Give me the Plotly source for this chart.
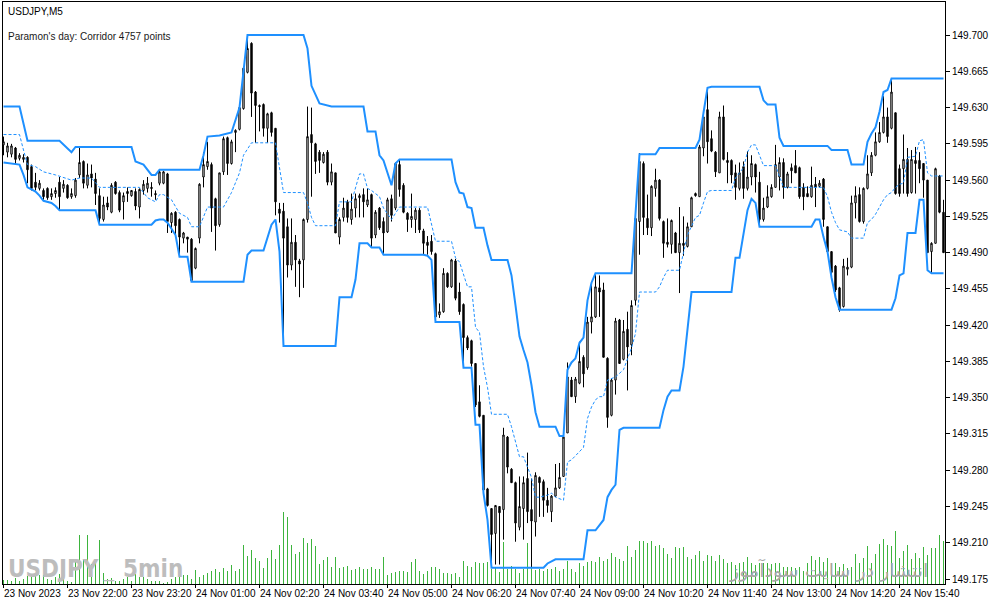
import plotly.graph_objects as go

# ---------------- data (USDJPY M5) ----------------
opens = [149.594,149.587,149.585,149.591,149.581,149.580,149.582,149.573,149.558,149.552,
149.550,149.552,149.544,149.547,149.558,149.552,149.555,149.544,149.545,149.565,
149.578,149.555,149.566,149.561,149.545,149.522,149.538,149.529,149.558,149.548,
149.539,149.549,149.545,149.549,149.534,149.550,149.552,149.553,149.547,149.557,
149.557,149.566,149.519,149.529,149.522,149.504,149.505,149.503,149.475,149.504,
149.563,149.573,149.575,149.542,149.517,149.568,149.601,149.576,149.606,149.609,
149.629,149.664,149.692,149.645,149.632,149.633,149.610,149.625,149.610,149.532,
149.530,149.515,149.478,149.500,149.482,149.483,149.522,149.604,149.595,149.587,
149.577,149.587,149.558,149.567,149.505,149.524,149.539,149.522,149.533,149.543,
149.546,149.536,149.546,149.507,149.533,149.520,149.510,149.542,149.533,149.575,
149.555,149.528,149.522,149.522,149.531,149.511,149.500,149.501,149.489,149.430,
149.433,149.470,149.457,149.482,149.452,149.440,149.408,149.405,149.383,149.346,
149.333,149.262,149.243,149.219,149.245,149.242,149.312,149.281,149.268,149.225,
149.243,149.272,149.242,149.230,149.273,149.269,149.251,149.240,149.255,149.263,
149.274,149.316,149.367,149.351,149.364,149.389,149.379,149.423,149.428,149.456,
149.454,149.388,149.333,149.367,149.425,149.387,149.416,149.401,149.444,149.520,
149.576,149.523,149.514,149.552,149.560,149.520,149.500,149.498,149.509,149.490,
149.499,149.496,149.515,149.547,149.544,149.591,149.628,149.600,149.587,149.567,
149.621,149.579,149.579,149.567,149.552,149.573,149.552,149.563,149.575,149.558,
149.522,149.534,149.544,149.553,149.563,149.577,149.553,149.572,149.574,149.572,
149.553,149.547,149.544,149.556,149.554,149.561,149.515,149.491,149.477,149.456,
149.438,149.474,149.476,149.538,149.546,149.520,149.552,149.567,149.584,149.597,
149.606,149.621,149.610,149.625,149.571,149.571,149.580,149.548,149.579,149.579,
149.576,149.560,149.491,149.499,149.564,149.529]
highs = [149.602,149.596,149.595,149.592,149.586,149.585,149.583,149.575,149.567,149.560,
149.552,149.553,149.552,149.553,149.563,149.560,149.556,149.552,149.562,149.591,
149.579,149.576,149.575,149.567,149.552,149.544,149.544,149.557,149.559,149.550,
149.548,149.553,149.550,149.552,149.552,149.560,149.563,149.558,149.550,149.570,
149.569,149.567,149.529,149.530,149.523,149.510,149.505,149.504,149.495,149.557,
149.587,149.597,149.577,149.543,149.567,149.602,149.602,149.599,149.609,149.631,
149.669,149.699,149.693,149.646,149.633,149.634,149.625,149.626,149.610,149.538,
149.538,149.523,149.523,149.507,149.484,149.523,149.631,149.630,149.596,149.589,
149.587,149.589,149.576,149.567,149.524,149.543,149.541,149.547,149.547,149.547,
149.552,149.552,149.547,149.531,149.534,149.524,149.543,149.546,149.577,149.580,
149.557,149.529,149.547,149.533,149.533,149.513,149.506,149.507,149.490,149.441,
149.475,149.471,149.484,149.484,149.461,149.441,149.410,149.406,149.383,149.362,
149.333,149.263,149.243,149.246,149.245,149.321,149.313,149.282,149.269,149.274,
149.274,149.297,149.272,149.278,149.274,149.271,149.263,149.256,149.286,149.287,
149.312,149.384,149.370,149.370,149.404,149.391,149.428,149.461,149.470,149.468,
149.461,149.389,149.368,149.427,149.426,149.425,149.433,149.444,149.524,149.586,
149.578,149.546,149.555,149.571,149.561,149.521,149.523,149.522,149.510,149.534,
149.525,149.519,149.544,149.548,149.594,149.621,149.649,149.608,149.588,149.626,
149.632,149.587,149.580,149.575,149.577,149.578,149.588,149.584,149.576,149.568,
149.543,149.555,149.556,149.594,149.582,149.581,149.568,149.576,149.589,149.573,
149.557,149.554,149.573,149.563,149.560,149.562,149.515,149.491,149.478,149.457,
149.484,149.485,149.545,149.554,149.553,149.553,149.584,149.587,149.606,149.616,
149.641,149.630,149.658,149.625,149.575,149.604,149.591,149.589,149.592,149.587,
149.576,149.560,149.500,149.572,149.565,149.541]
lows = [149.584,149.582,149.582,149.575,149.579,149.577,149.557,149.550,149.550,149.550,
149.541,149.541,149.541,149.543,149.531,149.548,149.542,149.542,149.543,149.562,
149.552,149.552,149.553,149.536,149.517,149.520,149.531,149.528,149.546,149.529,
149.522,149.539,149.544,149.531,149.523,149.546,149.548,149.544,149.541,149.555,
149.556,149.509,149.509,149.508,149.486,149.499,149.490,149.462,149.474,149.499,
149.553,149.570,149.510,149.492,149.515,149.565,149.565,149.575,149.587,149.608,
149.628,149.663,149.621,149.596,149.607,149.602,149.596,149.602,149.526,149.519,
149.400,149.466,149.473,149.457,149.447,149.456,149.519,149.544,149.566,149.567,
149.576,149.555,149.555,149.509,149.498,149.520,149.519,149.517,149.524,149.524,
149.524,149.534,149.495,149.504,149.512,149.488,149.509,149.520,149.531,149.544,
149.528,149.510,149.514,149.509,149.509,149.488,149.488,149.488,149.427,149.427,
149.432,149.456,149.456,149.444,149.430,149.379,149.396,149.380,149.341,149.331,
149.258,149.245,149.186,149.189,149.189,149.213,149.277,149.268,149.211,149.222,
149.213,149.229,149.186,149.216,149.235,149.235,149.239,149.230,149.254,149.262,
149.274,149.316,149.351,149.345,149.363,149.360,149.377,149.412,149.427,149.428,
149.389,149.321,149.332,149.353,149.383,149.386,149.357,149.391,149.439,149.488,
149.507,149.507,149.506,149.544,149.521,149.485,149.495,149.489,149.490,149.451,
149.487,149.495,149.515,149.544,149.544,149.583,149.576,149.587,149.563,149.567,
149.579,149.557,149.557,149.541,149.550,149.542,149.550,149.555,149.548,149.515,
149.520,149.533,149.543,149.553,149.550,149.542,149.552,149.557,149.567,149.542,
149.531,149.544,149.543,149.534,149.553,149.515,149.490,149.464,149.452,149.433,
149.437,149.468,149.475,149.523,149.519,149.518,149.551,149.564,149.583,149.596,
149.605,149.596,149.609,149.546,149.544,149.547,149.544,149.547,149.547,149.557,
149.543,149.490,149.470,149.499,149.528,149.490]
closes = [149.597,149.593,149.593,149.580,149.584,149.582,149.570,149.552,149.553,149.557,
149.544,149.543,149.547,149.550,149.544,149.556,149.543,149.547,149.560,149.577,
149.557,149.565,149.562,149.547,149.523,149.536,149.534,149.555,149.547,149.531,
149.545,149.547,149.550,149.535,149.551,149.556,149.557,149.552,149.546,149.568,
149.568,149.520,149.528,149.516,149.505,149.509,149.503,149.463,149.494,149.556,
149.575,149.578,149.533,149.516,149.567,149.600,149.576,149.597,149.608,149.630,
149.668,149.687,149.644,149.632,149.631,149.610,149.624,149.606,149.539,149.528,
149.504,149.478,149.500,149.483,149.479,149.522,149.602,149.596,149.578,149.579,
149.585,149.558,149.568,149.509,149.522,149.533,149.524,149.532,149.542,149.545,
149.539,149.541,149.504,149.529,149.514,149.509,149.541,149.526,149.576,149.551,
149.529,149.522,149.525,149.531,149.512,149.499,149.497,149.491,149.428,149.433,
149.470,149.457,149.483,149.446,149.433,149.408,149.398,149.383,149.343,149.332,
149.261,149.246,149.218,149.246,149.239,149.314,149.283,149.268,149.229,149.245,
149.268,149.240,149.231,149.275,149.268,149.251,149.246,149.255,149.263,149.273,
149.312,149.370,149.351,149.368,149.385,149.373,149.423,149.428,149.457,149.452,
149.389,149.331,149.367,149.424,149.383,149.414,149.399,149.439,149.523,149.578,
149.524,149.514,149.554,149.560,149.523,149.499,149.498,149.521,149.490,149.499,
149.497,149.515,149.543,149.545,149.592,149.621,149.597,149.588,149.568,149.621,
149.580,149.577,149.565,149.553,149.567,149.552,149.563,149.576,149.563,149.522,
149.533,149.544,149.553,149.575,149.577,149.553,149.566,149.569,149.567,149.544,
149.544,149.544,149.555,149.553,149.557,149.522,149.491,149.471,149.454,149.435,
149.477,149.476,149.538,149.545,149.520,149.552,149.566,149.584,149.597,149.606,
149.621,149.602,149.645,149.547,149.547,149.580,149.547,149.580,149.576,149.571,
149.560,149.490,149.499,149.571,149.529,149.490]
tick_volume = [40,40,30,60,30,50,80,70,100,90,90,50,40,70,100,50,30,20,230,490,
240,490,200,220,440,110,50,60,30,30,50,70,30,100,70,70,50,30,30,30,
10,20,50,70,140,90,90,50,140,70,90,110,130,150,120,160,130,190,130,150,
390,280,340,260,230,160,260,340,250,390,720,670,390,300,320,460,410,450,380,200,
240,270,
170,270,160,170,180,140,150,170,150,150,170,150,150,270,90,110,120,130,130,120,
220,250,130,100,130,170,170,150,110,110,100,110,70,230,180,170,220,210,210,220,
150,170,120,420,150,180,150,110,150,410,170,140,150,130,150,150,170,130,150,230,
150,120,210,180,220,230,220,270,230,250,310,270,250,230,380,270,340,430,430,410,
430,380,390,
360,300,260,370,360,370,270,250,290,330,230,290,280,230,290,250,210,220,190,210,
220,270,210,190,210,210,210,200,210,210,170,170,170,160,170,130,210,280,240,270,
220,260,210,210,170,200,160,170,300,210,260,380,210,300,400,450,390,380,530,260,
330,390,250,310,260,370,290,360,360,490,430]

# channel lines: bar index / price at the points where the line changes direction
upper_bar = [0,4,6,14,17,18,32,33,35,37,38,39,49,50,51,54,57,58,59,61,75,76,77,79,82,90,91,93,94,95,
97,98,99,112,113,114,115,116,117,118,120,121,122,126,127,128,129,130,131,132,133,134,138,139,140,141,
142,143,144,145,146,147,148,157,158,159,163,164,173,174,175,176,177,189,190,191,193,194,195,206,207,
211,212,215,216,217,218,219,220,221,222,235]
upper_price = [149.631,149.631,149.598,149.598,149.587,149.592,149.592,149.578,149.575,149.565,
149.565,149.570,149.570,149.584,149.602,149.603,149.606,149.618,149.630,149.700,
149.700,149.687,149.651,149.634,149.631,149.631,149.607,149.607,149.584,149.579,
149.555,149.576,149.580,149.580,149.558,149.548,149.547,149.534,149.533,149.514,
149.514,149.497,149.483,149.483,149.468,149.439,149.409,149.396,149.384,149.362,
149.336,149.322,149.322,149.313,149.313,149.377,149.384,149.388,149.403,149.408,
149.444,149.461,149.470,149.470,149.523,149.585,149.585,149.591,149.591,149.599,
149.625,149.649,149.650,149.650,149.637,149.633,149.633,149.601,149.593,149.593,
149.589,149.589,149.575,149.575,149.597,149.605,149.611,149.626,149.645,149.647,
149.658,149.658]
lower_bar = [0,4,5,6,7,8,9,10,12,13,14,23,24,37,38,39,40,41,42,43,44,46,47,60,61,62,65,66,67,68,
69,70,83,84,87,88,89,91,92,94,95,105,106,107,108,114,115,117,118,119,120,121,122,135,136,137,138,145,
146,148,150,151,152,153,154,155,164,165,166,167,169,170,171,172,182,183,184,185,186,187,188,189,202,
203,204,205,206,207,208,209,222,223,224,225,226,228,229,230,231,232,235]
lower_price = [149.577,149.575,149.565,149.553,149.551,149.549,149.545,149.540,149.538,149.535,
149.531,149.531,149.517,149.517,149.521,149.522,149.522,149.519,149.513,149.507,
149.486,149.486,149.462,149.462,149.488,149.492,149.492,149.504,149.517,149.522,
149.491,149.400,149.400,149.447,149.447,149.464,149.499,149.499,149.495,149.495,
149.488,149.488,149.487,149.483,149.423,149.423,149.379,149.379,149.324,149.324,
149.258,149.232,149.186,149.186,149.190,149.192,149.194,149.194,149.222,149.222,
149.232,149.254,149.261,149.266,149.319,149.321,149.321,149.338,149.351,149.357,
149.357,149.380,149.418,149.452,149.452,149.485,149.485,149.510,149.531,149.542,
149.538,149.515,149.515,149.522,149.522,149.505,149.491,149.466,149.447,149.435,
149.435,149.446,149.468,149.470,149.509,149.509,149.541,149.541,149.473,149.470,
149.470]
middle_bar = [0,4,5,6,8,10,13,17,19,22,24,34,35,36,38,39,40,42,44,46,47,49,51,55,57,59,60,62,68,70,
75,76,77,78,83,84,87,89,90,91,92,94,95,97,99,106,108,112,113,114,116,117,118,119,120,121,122,126,127,
128,129,130,131,132,133,134,136,137,138,140,141,142,143,145,146,147,148,149,150,151,153,155,157,158,
159,163,164,165,166,169,170,171,173,174,175,176,177,182,183,185,186,187,188,189,190,193,194,195,205,
206,207,208,209,211,212,215,216,217,218,219,220,221,222,223,224,225,226,228,229,230,231,232,235]
middle_price = [149.604,149.604,149.589,149.575,149.573,149.568,149.565,149.560,149.562,149.562,
149.553,149.553,149.548,149.543,149.539,149.546,149.546,149.541,149.528,149.524,
149.515,149.515,149.534,149.534,149.548,149.567,149.584,149.596,149.596,149.548,
149.548,149.538,149.524,149.516,149.516,149.539,149.539,149.566,149.566,149.552,
149.550,149.544,149.533,149.522,149.534,149.534,149.501,149.501,149.485,149.481,
149.457,149.457,149.418,149.413,149.380,149.360,149.334,149.334,149.322,149.306,
149.293,149.293,149.282,149.273,149.254,149.254,149.256,149.258,149.254,149.251,
149.288,149.290,149.294,149.302,149.330,149.341,149.348,149.351,149.351,149.367,
149.370,149.377,149.398,149.412,149.452,149.452,149.457,149.466,149.473,149.473,
149.490,149.507,149.524,149.526,149.538,149.549,149.550,149.550,149.562,149.572,
149.587,149.594,149.594,149.584,149.574,149.574,149.563,149.553,149.553,149.544,
149.529,149.519,149.512,149.510,149.504,149.504,149.519,149.522,149.527,149.534,
149.541,149.546,149.548,149.553,149.556,149.557,149.582,149.583,149.598,149.599,
149.567,149.564,149.564]

time_labels = ["23 Nov 2023", "23 Nov 22:00", "23 Nov 23:20", "24 Nov 01:00", "24 Nov 02:20",
               "24 Nov 03:40", "24 Nov 05:00", "24 Nov 06:20", "24 Nov 07:40", "24 Nov 09:00",
               "24 Nov 10:20", "24 Nov 11:40", "24 Nov 13:00", "24 Nov 14:20", "24 Nov 15:40"]
bars_per_label = 16
price_ticks = [149.175, 149.210, 149.245, 149.280, 149.315, 149.350, 149.385, 149.420,
               149.455, 149.490, 149.525, 149.560, 149.595, 149.630, 149.665, 149.700]

# ---------------- styling ----------------
BLUE = "#1E90FF"
VOL = "#3DB43D"
FONT = "Liberation Sans, Arial, sans-serif"
MARK = "#BDBDBD"
MARK_FONT = "DejaVu Sans Condensed, Liberation Sans"

bars = list(range(len(opens)))
label_bars = [k * bars_per_label for k in range(len(time_labels))]

fig = go.Figure()
fig.add_trace(go.Bar(x=bars, y=tick_volume, width=0.25, yaxis="y",
                     marker=dict(color=VOL, line=dict(width=0)), hoverinfo="skip"))
fig.add_trace(go.Candlestick(x=bars, open=opens, high=highs, low=lows, close=closes,
                             xaxis="x", yaxis="y2", whiskerwidth=0,
                             increasing=dict(line=dict(color="black", width=1), fillcolor="white"),
                             decreasing=dict(line=dict(color="black", width=1), fillcolor="black")))
fig.add_trace(go.Scatter(x=middle_bar, y=middle_price, yaxis="y2", mode="lines",
                         line=dict(color=BLUE, width=1, dash="3px,2px")))
fig.add_trace(go.Scatter(x=upper_bar, y=upper_price, yaxis="y2", mode="lines",
                         line=dict(color=BLUE, width=2)))
fig.add_trace(go.Scatter(x=lower_bar, y=lower_price, yaxis="y2", mode="lines",
                         line=dict(color=BLUE, width=2)))

annotations = []
for b, t in zip(label_bars, time_labels):
    annotations.append(dict(x=b, xref="x", y=0, yref="paper", yanchor="top", xanchor="left",
                            yshift=-2, xshift=-2, text=t, showarrow=False,
                            font=dict(family=FONT, size=10, color="black")))
annotations += [
    dict(x=0, xref="paper", y=1, yref="paper", xanchor="left", yanchor="top", xshift=3, yshift=-2,
         text="USDJPY,M5", showarrow=False, font=dict(family=FONT, size=10, color="black")),
    dict(x=0, xref="paper", y=1, yref="paper", xanchor="left", yanchor="top", xshift=3, yshift=-27,
         text="Paramon's day: Corridor 4757 points", showarrow=False,
         font=dict(family=FONT, size=10, color="#1a1a1a")),
    dict(x=0, xref="paper", y=0, yref="paper", xanchor="left", yanchor="bottom", xshift=3, yshift=-1,
         text="<b>USDJPY</b>", showarrow=False,
         font=dict(family=MARK_FONT, size=24, color=MARK)),
    dict(x=0, xref="paper", y=0, yref="paper", xanchor="left", yanchor="bottom", xshift=98, yshift=0,
         text="_", showarrow=False, font=dict(family=FONT, size=18, color=MARK)),
    dict(x=0, xref="paper", y=0, yref="paper", xanchor="left", yanchor="bottom", xshift=118, yshift=-1,
         text="<b>5min</b>", showarrow=False,
         font=dict(family=MARK_FONT, size=24, color=MARK)),
    dict(x=0.984, xref="paper", y=0, yref="paper", xanchor="right", yanchor="bottom", yshift=0,
         text="انتشار در سایت سودآموز", showarrow=False,
         font=dict(family="DejaVu Sans", size=19, color="#A8A8A8")),
]

fig.update_layout(
    width=991, height=605, margin=dict(l=3, r=46, t=2, b=21),
    paper_bgcolor="white", plot_bgcolor="white", showlegend=False, boxgap=0.5,
    font=dict(family=FONT, size=10, color="black"),
    xaxis=dict(range=[-0.125, 235.375], tickmode="array", tickvals=label_bars, showticklabels=False,
               ticks="outside", ticklen=3, tickcolor="black", showline=True, linecolor="black",
               linewidth=1, mirror=True, showgrid=False, zeroline=False,
               rangeslider=dict(visible=False)),
    yaxis=dict(range=[0, 5820], visible=False, fixedrange=True),
    yaxis2=dict(overlaying="y", side="right", range=[149.1702, 149.7319], tickmode="array",
                tickvals=price_ticks, ticktext=[f"{p:.3f}" for p in price_ticks],
                ticks="outside", ticklen=4, tickcolor="black", showline=True, linecolor="black",
                linewidth=1, mirror=True, showgrid=False, zeroline=False,
                tickfont=dict(family=FONT, size=10, color="black")),
    annotations=annotations,
)

fig.write_html("out.html", config={"displayModeBar": False},
               post_script="document.body.style.margin='0';")
